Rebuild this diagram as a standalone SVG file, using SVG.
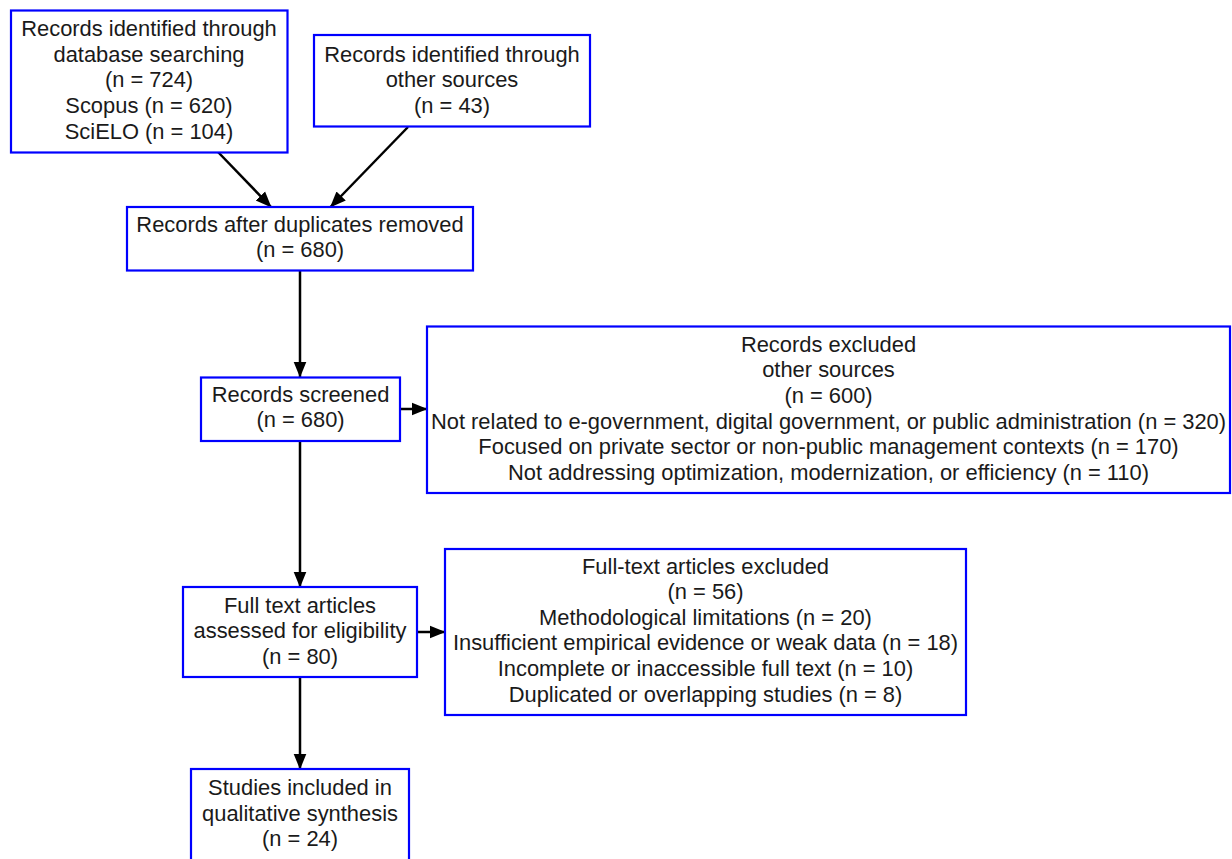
<svg xmlns="http://www.w3.org/2000/svg" width="1232" height="859" viewBox="0 0 1232 859">
<style>
.box{fill:#ffffff;stroke:#0000ff;stroke-width:2.2}
.t{font-family:"Liberation Sans",Arial,sans-serif;font-size:21.9px;fill:#1a1a1a;text-anchor:middle}
.e{stroke:#000;stroke-width:2.5;fill:none}
</style>
<defs>
<marker id="ah" markerUnits="userSpaceOnUse" markerWidth="17" markerHeight="15" refX="16" refY="7" orient="auto">
<path d="M0,0.5 L16,7 L0,13.5 Z" fill="#000"/>
</marker>
</defs>
<rect width="1232" height="859" fill="#ffffff"/>
<g id="connectors">
<line class="e" x1="218" y1="152" x2="271.5" y2="207.5" marker-end="url(#ah)"/>
<line class="e" x1="408" y1="127" x2="330" y2="207.5" marker-end="url(#ah)"/>
<line class="e" x1="300" y1="271" x2="300" y2="377.5" marker-end="url(#ah)"/>
<line class="e" x1="400" y1="409" x2="427.5" y2="409" marker-end="url(#ah)"/>
<line class="e" x1="300" y1="441" x2="300" y2="587.5" marker-end="url(#ah)"/>
<line class="e" x1="417" y1="632" x2="445.5" y2="632" marker-end="url(#ah)"/>
<line class="e" x1="300" y1="677" x2="300" y2="769.5" marker-end="url(#ah)"/>
</g>
<g id="db">
<rect class="box" x="11" y="10.5" width="276.5" height="142"/>
<text class="t" x="149" y="36">Records identified through</text>
<text class="t" x="149" y="61.7">database searching</text>
<text class="t" x="149" y="87.4">(n = 724)</text>
<text class="t" x="149" y="113.1">Scopus (n = 620)</text>
<text class="t" x="149" y="138.8">SciELO (n = 104)</text>
</g>
<g id="other">
<rect class="box" x="314" y="35" width="276" height="91.5"/>
<text class="t" x="452" y="61.7">Records identified through</text>
<text class="t" x="452" y="87.4">other sources</text>
<text class="t" x="452" y="113.1">(n = 43)</text>
</g>
<g id="dedup">
<rect class="box" x="127" y="207" width="346" height="63.5"/>
<text class="t" x="300" y="231.7">Records after duplicates removed</text>
<text class="t" x="300" y="257.4">(n = 680)</text>
</g>
<g id="screened">
<rect class="box" x="201" y="377.5" width="199" height="63.5"/>
<text class="t" x="300.5" y="401.7">Records screened</text>
<text class="t" x="300.5" y="427.4">(n = 680)</text>
</g>
<g id="excluded">
<rect class="box" x="427" y="326.5" width="803" height="166.5"/>
<text class="t" x="828.5" y="351.7">Records excluded</text>
<text class="t" x="828.5" y="377.3">other sources</text>
<text class="t" x="828.5" y="402.9">(n = 600)</text>
<text class="t" x="828.5" y="428.5">Not related to e-government, digital government, or public administration (n = 320)</text>
<text class="t" x="828.5" y="454.1">Focused on private sector or non-public management contexts (n = 170)</text>
<text class="t" x="828.5" y="479.7">Not addressing optimization, modernization, or efficiency (n = 110)</text>
</g>
<g id="fulltext">
<rect class="box" x="183" y="587" width="234" height="90"/>
<text class="t" x="300" y="612.7">Full text articles</text>
<text class="t" x="300" y="638.4">assessed for eligibility</text>
<text class="t" x="300" y="664.1">(n = 80)</text>
</g>
<g id="ftexcluded">
<rect class="box" x="445" y="549" width="521" height="166"/>
<text class="t" x="705.5" y="573.5">Full-text articles excluded</text>
<text class="t" x="705.5" y="599.1">(n = 56)</text>
<text class="t" x="705.5" y="624.7">Methodological limitations (n = 20)</text>
<text class="t" x="705.5" y="650.3">Insufficient empirical evidence or weak data (n = 18)</text>
<text class="t" x="705.5" y="675.9">Incomplete or inaccessible full text (n = 10)</text>
<text class="t" x="705.5" y="701.5">Duplicated or overlapping studies (n = 8)</text>
</g>
<g id="included">
<rect class="box" x="191" y="769" width="218" height="100"/>
<text class="t" x="300" y="795">Studies included in</text>
<text class="t" x="300" y="820.5">qualitative synthesis</text>
<text class="t" x="300" y="846">(n = 24)</text>
</g>
</svg>
